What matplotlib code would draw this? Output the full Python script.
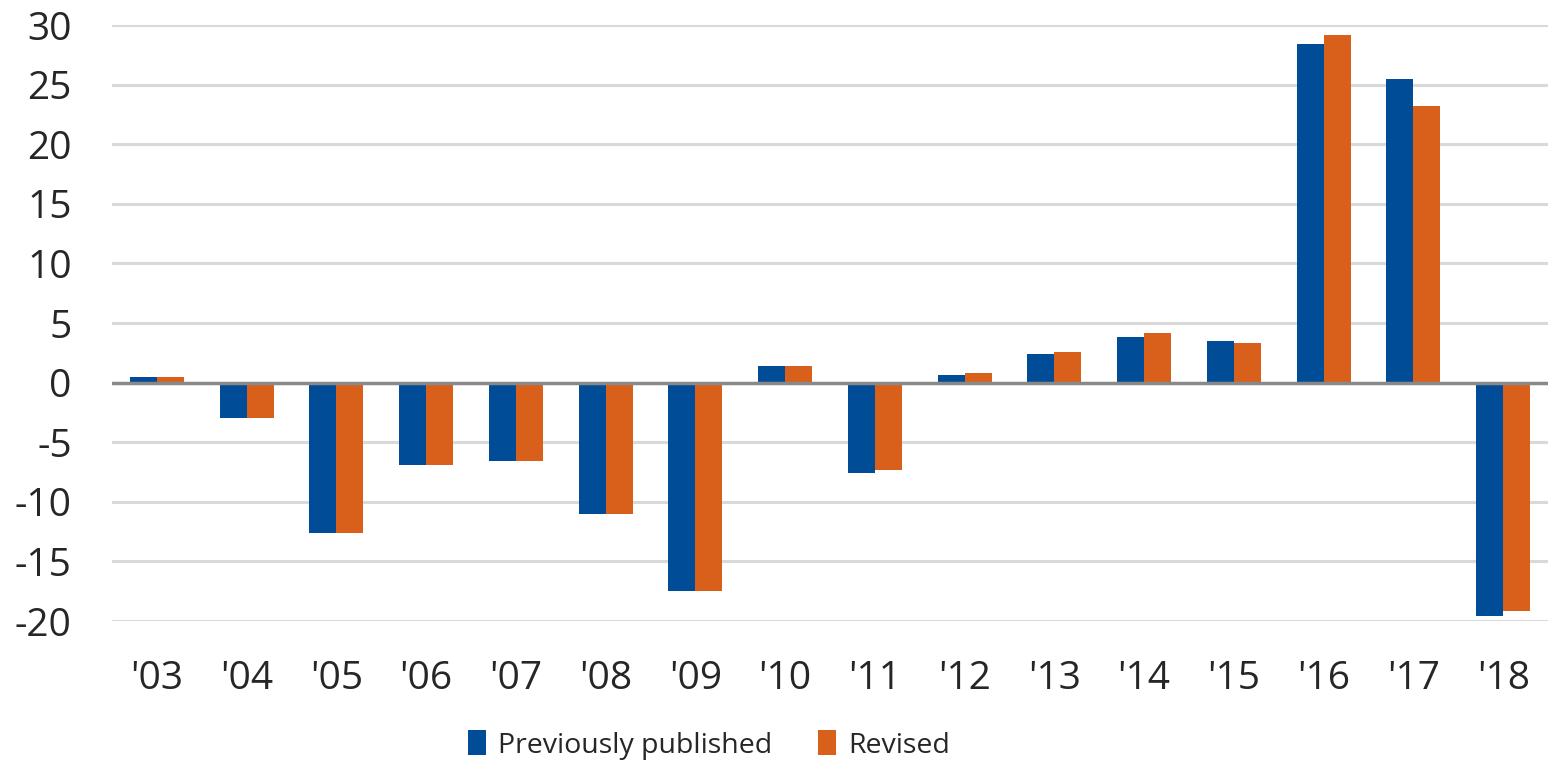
import matplotlib
matplotlib.use("Agg")
import matplotlib.pyplot as plt
import numpy as np

years = ["'03", "'04", "'05", "'06", "'07", "'08", "'09", "'10",
         "'11", "'12", "'13", "'14", "'15", "'16", "'17", "'18"]
previously_published = [0.5, -3.0, -12.6, -6.9, -6.6, -11.0, -17.5, 1.4,
                        -7.6, 0.65, 2.4, 3.8, 3.5, 28.4, 25.5, -19.6]
revised = [0.5, -3.0, -12.6, -6.9, -6.6, -11.0, -17.5, 1.4,
           -7.3, 0.8, 2.6, 4.2, 3.3, 29.2, 23.2, -19.2]

blue = '#004c97'
orange = '#d9601a'

plt.rcParams['font.family'] = ['Open Sans', 'DejaVu Sans']
plt.rcParams['axes.unicode_minus'] = False

fig = plt.figure(figsize=(15.48, 7.72), dpi=100)
ax = fig.add_axes([112 / 1548, 151 / 772, 1 - 112 / 1548, (621 - 25) / 772])

x = np.arange(len(years))
w = 0.3
ax.bar(x - w / 2, previously_published, w, color=blue, label='Previously published', zorder=3)
ax.bar(x + w / 2, revised, w, color=orange, label='Revised', zorder=3)

ax.set_xlim(-0.5, len(years) - 0.5)
ax.set_ylim(-20, 30)
ax.set_yticks(range(-20, 31, 5))
ax.yaxis.grid(True, color='#d9d9d9', linewidth=2.2, zorder=0)
ax.axhline(0, color='#898989', linewidth=2.5, zorder=4)

for s in ax.spines.values():
    s.set_visible(False)
ax.tick_params(axis='both', length=0, labelsize=28, labelcolor='#262626')
ax.tick_params(axis='y', pad=29)
ax.tick_params(axis='x', pad=28)
ax.set_xticks(x)
ax.set_xticklabels(years)

# legend below the axis, centred under the plot like the original
leg = fig.legend(loc='center', bbox_to_anchor=(709 / 1548, 1 - 745 / 772), ncol=2, frameon=False,
                 fontsize=20.5, handlelength=0.64, handleheight=0.95, columnspacing=1.6,
                 handletextpad=0.42, borderpad=0)
for t in leg.get_texts():
    t.set_color('#262626')

fig.savefig('out.png', dpi=100)
